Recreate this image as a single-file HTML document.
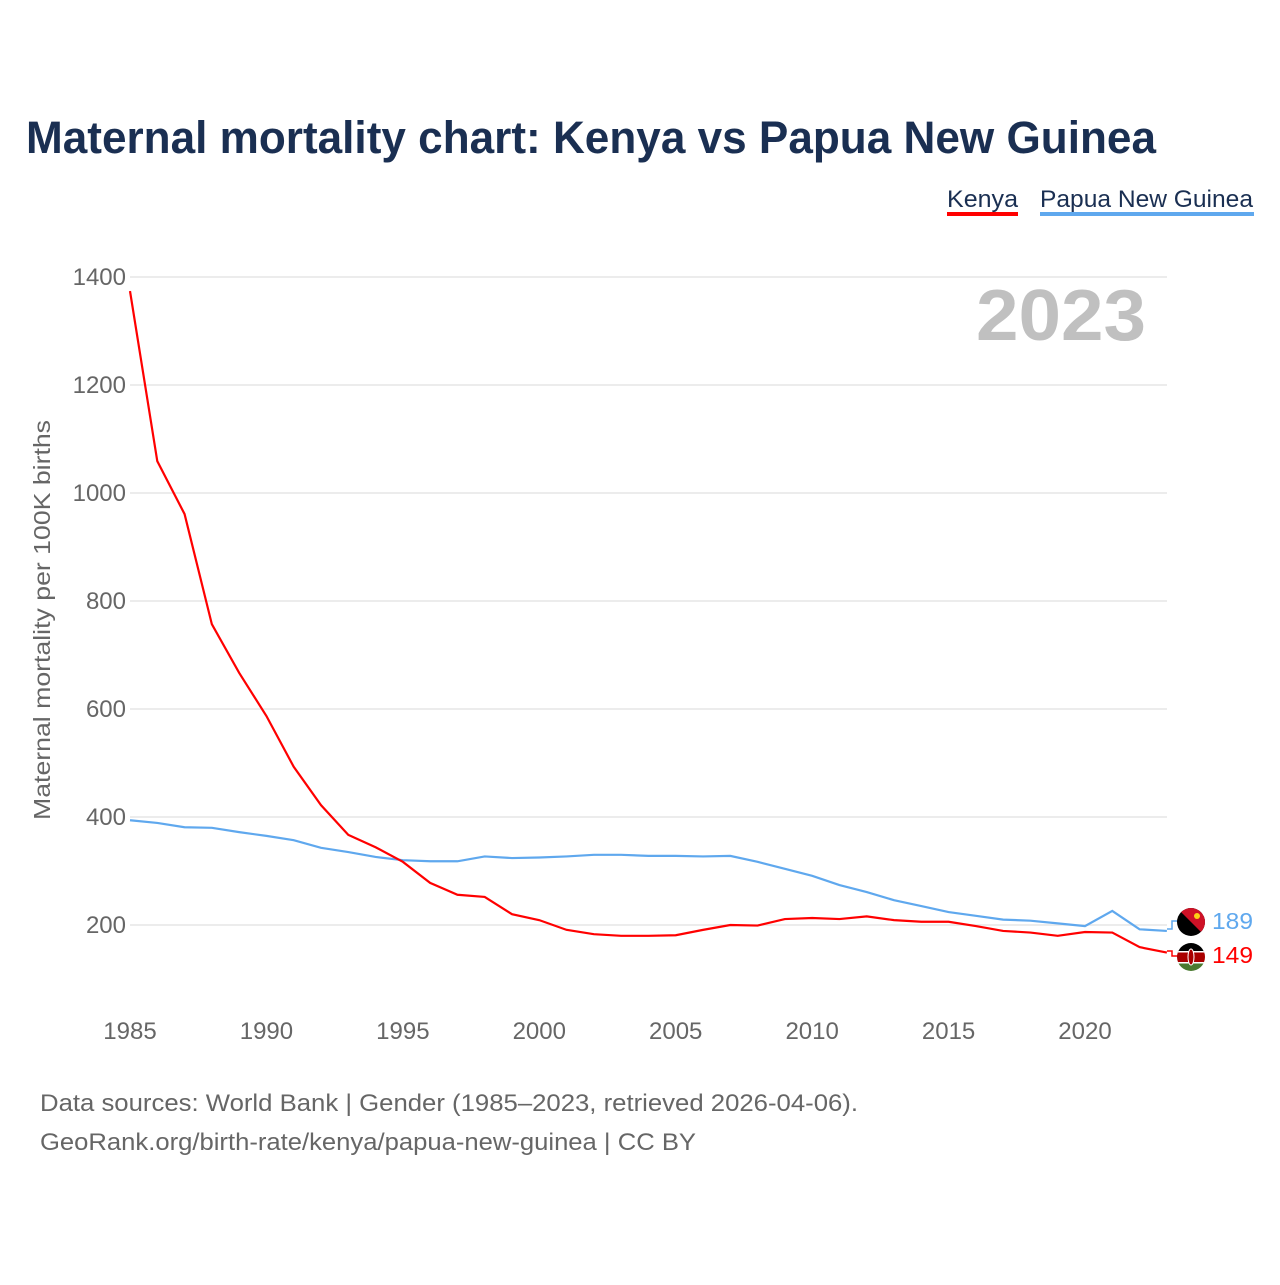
<!DOCTYPE html>
<html><head><meta charset="utf-8">
<style>
body{margin:0;background:#fff;font-family:"Liberation Sans",sans-serif;}
</style></head>
<body>
<svg id="chart" width="1280" height="1280" viewBox="0 0 1280 1280" xmlns="http://www.w3.org/2000/svg">
<text x="26" y="153" font-size="45" font-weight="bold" fill="#1a2f52" textLength="1130" lengthAdjust="spacingAndGlyphs">Maternal mortality chart: Kenya vs Papua New Guinea</text>
<g>
<text x="947" y="207" font-size="24" fill="#1a2f52" textLength="71" lengthAdjust="spacingAndGlyphs">Kenya</text>
<rect x="947" y="212" width="71" height="4" fill="#ff0000"/>
<text x="1040" y="207" font-size="24" fill="#1a2f52" textLength="213" lengthAdjust="spacingAndGlyphs">Papua New Guinea</text>
<rect x="1040" y="212" width="214" height="4" fill="#5fa8ee"/>
</g>
<text x="1146" y="340" font-size="72" font-weight="bold" fill="#c0c0c0" text-anchor="end" textLength="170" lengthAdjust="spacingAndGlyphs">2023</text>
<g id="grid"></g><g id="xt"></g><g id="lines"></g>
<text transform="translate(50,620) rotate(-90)" font-size="23" fill="#666" text-anchor="middle" textLength="400" lengthAdjust="spacingAndGlyphs">Maternal mortality per 100K births</text>
<g>
<polyline points="1167,929 1172,929 1172,921 1178,921" fill="none" stroke="#5fa8ee" stroke-width="1.5"/>
<polyline points="1167,951 1172,951 1172,956 1178,956" fill="none" stroke="#ff0000" stroke-width="1.5"/>
<g><clipPath id="c1"><circle cx="1191" cy="922" r="14"/></clipPath><g clip-path="url(#c1)"><rect x="1177" y="908" width="28" height="28" fill="#000"/><polygon points="1177,908 1205,908 1205,936" fill="#ce1126"/><circle cx="1197" cy="916" r="3" fill="#fcd116"/></g></g>
<text x="1212" y="929" font-size="23" fill="#5fa8ee" textLength="41" lengthAdjust="spacingAndGlyphs">189</text>
<g><clipPath id="c2"><circle cx="1191" cy="957" r="14"/></clipPath><g clip-path="url(#c2)"><rect x="1177" y="943" width="28" height="9" fill="#000"/><rect x="1177" y="952" width="28" height="10" fill="#a00"/><rect x="1177" y="962" width="28" height="9" fill="#4a7a30"/><rect x="1177" y="951" width="28" height="1.5" fill="#fff"/><rect x="1177" y="962" width="28" height="1.5" fill="#fff"/><ellipse cx="1191" cy="957" rx="3" ry="8" fill="#a00" stroke="#fff"/></g></g>
<text x="1212" y="963" font-size="23" fill="#ff0000" textLength="41" lengthAdjust="spacingAndGlyphs">149</text>
</g>
<text x="40" y="1111" font-size="24" fill="#666" textLength="818" lengthAdjust="spacingAndGlyphs">Data sources: World Bank | Gender (1985–2023, retrieved 2026-04-06).</text>
<text x="40" y="1150" font-size="24" fill="#666" textLength="656" lengthAdjust="spacingAndGlyphs">GeoRank.org/birth-rate/kenya/papua-new-guinea | CC BY</text>
</svg>
<script>
const years=[];for(let y=1985;y<=2023;y++)years.push(y);
const kenya=[1374,1059,961,757,667,587,493,422,367,344,317,278,256,252,220,209,191,183,180,180,181,191,200,199,211,213,211,216,209,206,206,198,189,186,180,187,186,159,149];
const png=[394,389,381,380,372,365,357,343,335,326,320,318,318,327,324,325,327,330,330,328,328,327,328,317,304,291,274,261,246,235,224,217,210,208,203,198,226,192,189];
const yTicks=[200,400,600,800,1000,1200,1400];
const xTicks=[1985,1990,1995,2000,2005,2010,2015,2020];
const NS="http://www.w3.org/2000/svg";
const X=v=>130+(v-1985)*955/35;
const Y=v=>925-(v-200)*0.54;
const g=document.getElementById('grid'),xt=document.getElementById('xt'),ln=document.getElementById('lines');
yTicks.forEach(t=>{
 const l=document.createElementNS(NS,'line');
 l.setAttribute('x1',130);l.setAttribute('x2',1167);l.setAttribute('y1',Y(t));l.setAttribute('y2',Y(t));
 l.setAttribute('stroke','#e6e6e6');l.setAttribute('stroke-width','1.5');
 
 
 g.appendChild(l);
 const s=document.createElementNS(NS,'text');
 s.setAttribute('x',126);s.setAttribute('y',Y(t)+8);s.setAttribute('text-anchor','end');
 s.setAttribute('font-size','24');s.setAttribute('fill','#666');s.textContent=t;
 
 
 g.appendChild(s);
});
xTicks.forEach(t=>{
 const s=document.createElementNS(NS,'text');
 s.setAttribute('x',X(t));s.setAttribute('y',1039);s.setAttribute('text-anchor','middle');
 s.setAttribute('font-size','24');s.setAttribute('fill','#666');s.textContent=t;
 
 
 xt.appendChild(s);
});
function line(data,color,name){
 const p=document.createElementNS(NS,'polyline');
 p.setAttribute('points',data.map((v,i)=>X(years[i])+','+Y(v)).join(' '));
 p.setAttribute('fill','none');p.setAttribute('stroke',color);p.setAttribute('stroke-width','2.2');
 
 
 ln.appendChild(p);
}
line(png,'#5fa8ee','png-line');
line(kenya,'#ff0000','kenya-line');
</script>
</body></html>
